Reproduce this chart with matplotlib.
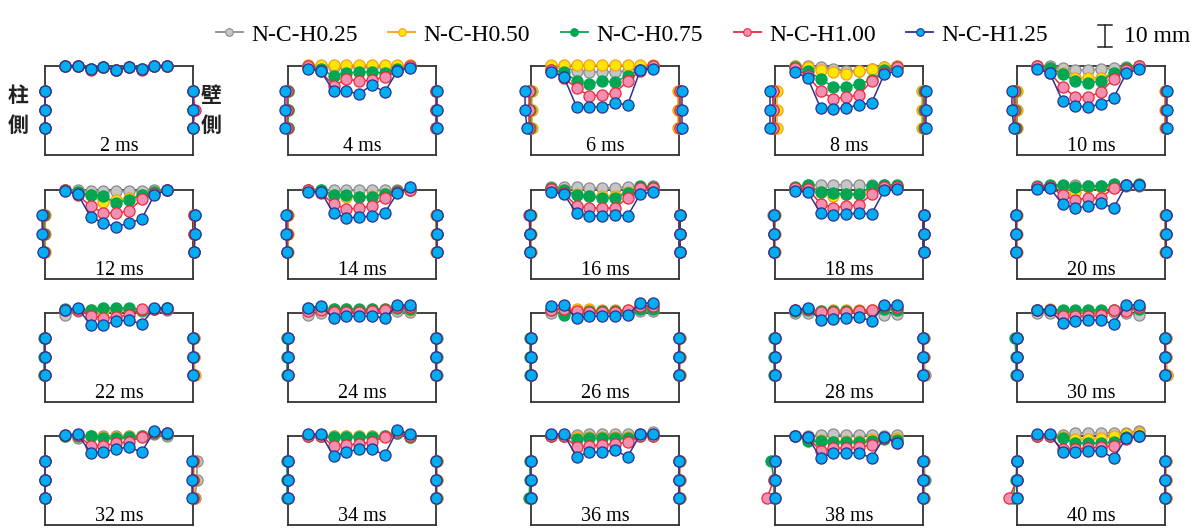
import matplotlib.pyplot as plt
from matplotlib.lines import Line2D

plt.rcParams["font.family"] = ["Liberation Serif", "DejaVu Serif"]

# ---- data (mm) ----
times_ms = [2, 4, 6, 8, 10, 12, 14, 16, 18, 20, 22, 24, 26, 28, 30, 32, 34, 36, 38, 40]
series_names = ["N-C-H0.25", "N-C-H0.50", "N-C-H0.75", "N-C-H1.00", "N-C-H1.25"]

# horizontal position of the 9 gauge points on the slab, from the left frame corner
top_x = [9.1, 14.9, 20.7, 26.5, 32.3, 38.1, 43.9, 49.7, 55.5]
# height of the 3 gauge points on each wall, from the bottom of the frame
side_y = [29.1, 20.5, 12.3]

# downward deflection of the 9 slab points, one row per time step
top_h025 = [
    [0, 0, 1.4, 0.5, 1.8, 0.5, 1.4, 0, 0],
    [0, 0, 0.5, 0.5, 0.5, 0.5, 0.5, 0, 0],
    [0, 0.5, 2.3, 2.7, 2.7, 2.7, 2.3, 0.5, 0],
    [0, 0, 0.5, 1.4, 2.3, 2.3, 1.4, 0.5, 0],
    [0, 0, 0.9, 1.8, 1.8, 1.4, 0.9, 0.5, 0],
    [0, 0, 0.5, 0.5, 0.5, 0.5, 0.5, 0, 0],
    [0, 0, 0, 0, 0, 0, 0, 0, 0],
    [-1.4, -1.4, -1.4, -1.0, -1.0, -1.0, -1.4, -1.4, -1.8],
    [-1.0, -2.3, -2.3, -2.3, -2.3, -2.3, -2.3, -2.3, -1.4],
    [-1.4, -1.8, -1.8, -2.3, -1.8, -1.8, -1.8, -1.8, -1.8],
    [0.9, -0.9, -0.9, -1.4, -1.4, -1.4, -0.9, -1.8, -1.4],
    [0.9, 0, -0.9, -0.9, -0.9, -0.9, -0.9, -0.9, -0.5],
    [0, 0, 0, -0.5, -0.5, -0.5, -0.5, -0.9, -0.9],
    [0, 0, -0.5, -0.9, -0.9, -0.9, -0.9, 0.9, 0.5],
    [0, 0, -0.5, -0.5, -0.5, -0.5, -0.5, 0, 0.9],
    [0, 0.9, 0, 0, 0, 0, 0, -0.9, 0],
    [0, 0, 0, 0, 0, 0, 0, -1.4, 0.5],
    [0, 0, -0.5, -0.9, -0.9, -0.9, -0.9, -0.9, -1.8],
    [0, 0, -0.5, -0.9, -0.5, -0.5, -0.5, 0, -0.5],
    [0, 0, -0.5, -1.4, -1.4, -1.4, -1.4, -1.4, -2.3],
]
top_h050 = [
    [0, 0, 1.2, 0.3, 1.6, 0.3, 1.2, 0, 0],
    [-0.3, -0.3, -0.3, -0.3, -0.3, -0.3, -0.3, -0.3, -0.3],
    [-0.5, -0.5, -0.5, -0.5, -0.5, -0.5, -0.5, -0.5, -0.5],
    [0, 0.5, 1.8, 2.7, 3.6, 2.3, 1.4, 0.5, 0],
    [0, 0.9, 3.2, 5.3, 5.5, 5.3, 3.2, 0.9, 0],
    [0, 0.9, 2.3, 5.5, 4.5, 3.6, 2.3, 0.9, 0],
    [0, 0.5, 2.3, 3.2, 3.2, 2.7, 1.8, 0.5, 0],
    [-0.5, 0, 1.8, 2.9, 2.7, 2.7, 0.9, -0.5, -0.9],
    [-1.0, -0.5, 0.9, 2.9, 1.8, 1.8, 0, -1.4, -1.4],
    [-1.4, -1.8, -1.8, 0.9, -1.4, -1.4, -1.8, -2.3, -2.3],
    [-1.4, -1.8, -1.4, -0.9, -1.8, -1.8, -1.4, -1.8, -2.3],
    [-2.3, -2.7, -1.8, -1.8, -1.4, -1.8, -1.8, -2.7, -1.4],
    [-1.8, -2.3, -1.8, -1.8, -1.4, -1.4, -1.4, -2.7, -2.7],
    [-1.4, -1.8, -0.9, -1.4, -1.4, -1.4, -1.4, -2.7, -2.3],
    [-1.4, -1.8, -0.9, -0.9, -0.9, -0.9, -1.4, -2.3, -2.3],
    [0, 0, 0, 0.5, 0.5, 0, 0, -1.4, -0.9],
    [0, 0, 0, 0, 0, 0, 0, -1.8, 0.5],
    [0, 0, 0.5, 0.5, 0.5, 0.5, 0.5, -0.5, -0.5],
    [0, 1.4, 1.8, 2.7, 2.3, 2.3, 1.4, 0.9, 0.9],
    [0, 0, 0.5, 1.4, 1.4, 0.9, 0, -0.9, -1.4],
]
top_h075 = [
    [0, 0, 1.4, 0.5, 1.6, 0.5, 1.4, 0, 0],
    [0.5, 1.4, 4.5, 3.2, 2.7, 2.7, 3.2, 1.4, 0.5],
    [1.8, 2.7, 6.8, 8.2, 6.8, 7.3, 4.5, 1.8, 0],
    [0.5, 2.3, 5.9, 9.5, 9.5, 8.2, 6.4, 1.8, 0.5],
    [0, 0.9, 3.6, 6.8, 7.7, 6.8, 3.2, 0.9, 0],
    [0, 0.9, 2.3, 2.7, 5.9, 4.5, 2.3, 0.9, 0],
    [0, 0, 2.3, 2.3, 3.2, 3.2, 1.8, 0.5, 0],
    [-0.9, 0, 2.3, 2.7, 3.8, 3.5, 1.4, -1.8, -1.4],
    [-1.4, -2.3, 0.9, 1.4, 1.9, 1.9, -1.8, -2.3, -2.3],
    [-1.8, -2.3, -2.3, -1.4, -1.8, -1.8, -2.7, -2.3, -2.7],
    [-1.8, -1.8, -1.4, -2.3, -2.3, -2.3, -1.4, -1.8, -2.3],
    [-1.8, -2.3, -1.8, -1.8, -1.8, -1.8, -1.8, -2.3, -1.8],
    [-1.4, 0.9, -0.5, -0.9, -0.9, -0.9, -0.9, -1.8, -1.8],
    [-0.9, -1.4, -0.9, -0.9, -0.9, -0.9, -0.9, -1.8, -1.4],
    [-1.4, -1.4, -1.4, -1.4, -1.4, -1.4, -1.4, -2.3, -1.8],
    [0, 0, 0, 0.9, 0.9, 0.5, 0, -1.4, -0.9],
    [0, 0, 0.5, 0.5, 0.5, 0.5, 0, -1.4, 0.5],
    [0, 0, 1.4, 0.9, 0.9, 0.9, 0.9, 0, 0],
    [0, 2.3, 2.3, 2.7, 2.7, 2.7, 2.3, 1.4, 1.8],
    [0, 0, 0.9, 3.2, 3.2, 3.2, 2.7, 0.5, 0],
]
top_h100 = [
    [0, 0, 1.6, 0.5, 1.8, 0.5, 1.6, 0, 0],
    [0, 2.3, 9.1, 5.9, 6.8, 6.4, 5.0, 2.3, 0],
    [1.8, 5.5, 10.0, 13.6, 13.2, 12.3, 6.8, 2.3, 0],
    [0.9, 4.5, 11.4, 15.0, 14.1, 13.2, 6.8, 3.2, 0.5],
    [0, 3.2, 9.5, 14.1, 14.1, 11.8, 5.9, 1.8, 0],
    [0, 2.3, 7.3, 10.5, 10.5, 9.5, 4.1, 1.8, 0],
    [0, 1.4, 6.4, 8.6, 8.2, 7.3, 3.6, 0.9, 0],
    [-0.5, 1.4, 7.3, 8.2, 8.2, 8.2, 3.5, -0.9, -0.9],
    [-0.9, -0.5, 6.2, 8.1, 7.3, 6.8, 1.9, -1.4, -1.4],
    [-1.4, -1.4, 2.3, 4.5, 3.6, 3.6, -1.0, -2.3, -2.3],
    [-1.4, -1.4, 1.4, 2.3, 1.8, 0.9, -1.8, -1.8, -1.8],
    [-0.9, -1.4, -0.5, -0.5, -0.5, -0.9, -1.4, -2.7, -2.7],
    [-1.4, -1.8, -0.9, -0.5, -0.5, -0.5, -1.4, -3.2, -3.2],
    [-1.4, -1.8, -0.5, -0.5, -0.5, -0.9, -1.4, -3.2, -2.7],
    [-1.4, -1.4, 1.4, 1.4, 1.4, 0.9, -1.4, -0.9, -2.7],
    [-0.5, -0.5, 4.5, 4.5, 3.2, 2.7, 0.5, -1.8, -1.4],
    [0, 0, 4.5, 4.1, 3.6, 2.7, 0.5, -1.8, 0],
    [0, 0, 5.0, 4.5, 4.1, 3.6, 2.7, 0, 0],
    [0, 0.5, 6.8, 5.5, 5.5, 5.0, 4.1, 0.9, 3.2],
    [0, 0, 5.9, 5.9, 5.5, 5.0, 4.5, 1.4, 0],
]
top_h125 = [
    [0, 0, 1.5, 0.3, 1.8, 0.3, 1.5, 0, 0],
    [1.2, 2.3, 11.4, 11.4, 12.7, 8.6, 11.8, 2.3, 0.8],
    [2.6, 4.9, 18.5, 18.5, 18.5, 16.8, 17.7, 1.8, 1.4],
    [2.7, 5.5, 19.1, 19.5, 19.1, 17.7, 16.8, 3.6, 2.3],
    [1.4, 3.2, 15.9, 18.2, 18.6, 17.3, 14.5, 3.2, 1.4],
    [0.5, 1.8, 12.3, 15.0, 16.8, 15.0, 13.2, 2.3, 0],
    [0.8, 0.8, 10.5, 12.7, 12.3, 11.8, 10.5, 1.4, -1.4],
    [0.9, 1.8, 10.5, 11.8, 11.8, 11.4, 11.8, 1.8, 0.9],
    [0.5, 0.9, 10.5, 11.4, 10.9, 10.5, 10.9, 0, -0.5],
    [-0.5, -0.9, 6.4, 8.2, 7.3, 5.9, 8.2, -2.3, -2.3],
    [-1.4, -2.3, 5.5, 5.5, 3.6, 3.2, 5.0, -2.3, -2.3],
    [-2.3, -3.2, 2.3, 1.4, 1.4, 1.4, 2.3, -3.6, -3.6],
    [-3.2, -3.6, 2.3, 1.4, 1.4, 1.4, 0.9, -4.5, -4.5],
    [-1.4, -2.3, 3.2, 2.7, 2.3, 1.8, 3.6, -3.6, -3.6],
    [-1.4, -1.4, 4.5, 3.6, 3.2, 3.2, 5.0, -3.6, -3.6],
    [-0.5, -0.9, 7.7, 7.3, 5.9, 5.0, 7.3, -2.3, -1.4],
    [-0.9, -0.9, 9.1, 7.3, 5.9, 5.9, 8.6, -2.7, -0.9],
    [-0.9, -0.9, 9.5, 7.3, 7.3, 6.4, 9.5, -0.9, -0.9],
    [0, 0.5, 10.0, 7.7, 7.7, 7.7, 10.0, 0.5, 3.2],
    [-0.9, -0.9, 7.3, 7.3, 6.8, 6.8, 10.0, 0.9, 0],
]

# outward movement of the wall points: left wall (3 points) then right wall (3 points)
side_h025 = [
    [0, 0, 0, 0, 0, 0], [0, 0, 0, 0, 0, 0], [0.5, 0.5, 0.5, 0.5, 0.5, 0.5],
    [0.5, 0.5, 0.5, 0.5, 0.5, 0.5], [0.9, 0.9, 0.5, 0.5, 0.5, 0.5], [0.5, 0.5, 0.5, 0.5, 0.5, 0.5],
    [0.5, 0.5, 0.5, 0.5, 0.5, 0.5], [0.5, 0.5, 0.5, 0.5, 0.5, 0.5], [0.9, 0.5, 0.5, 0.5, 0.5, 0.5],
    [0.5, 0.5, 0.5, 0.5, 0.5, 0.5], [0, 0, 0, 0.5, 0.5, 0.5], [0, 0, 0, 0.5, 0.5, 0.5],
    [0, 0, 0, 0.5, 0.5, 0.5], [0, 0, 0, 0.5, 0.5, 0.9], [0, 0, 0, 0.5, 0.5, 0.9],
    [0, 0, 0, 1.8, 1.8, 0.9], [0, 0, 0, 0.5, 0.5, 0.5], [0, 0, 0, 0.5, 0.5, 0.5],
    [0, 0, 0, 0.5, 0.9, 0.5], [0, 0, 0, 0.5, 0.5, 0.5],
]
side_h050 = [
    [0, 0, 0, 0, 0, 0], [0, 0, 0, 0.5, 0.5, 0.5], [-0.5, -0.5, -0.5, -0.3, -0.3, -0.3],
    [-0.8, -0.8, -0.8, -0.5, -0.5, -0.5], [0, 0, 0, 0, 0, 0], [0, 0, 0, 0.5, 0.5, 0.5],
    [0, 0, 0, 0, 0, 0], [0, 0, 0, 0.5, 0.5, 0.5], [0, 0, 0, 0.5, 0.5, 0.5],
    [0, 0, 0, 0, 0, 0], [0, 0, 0.5, 0.5, 0.5, 0.9], [0, 0, 0, 0, 0, 0],
    [0, 0, 0, 0.5, 0.5, 0.5], [0, 0, 0, 0.5, 0.5, 0.5], [0, 0, 0, 0.5, 0.5, 0.9],
    [0, 0, 0, 0.5, 0.5, 0.5], [0, 0, 0, 0.5, 0.5, 0.5], [0, 0, 0, 0.5, 0.5, 0.5],
    [0, 0, 0, 0.5, 0.5, 0.5], [0, 0, 0, 0.5, 0.5, 0.5],
]
side_h075 = [
    [0, 0, 0, 0, 0, 0], [0, 0, 0, 0, 0, 0], [0.5, 0.5, 0.5, 0.5, 0.5, 0.5],
    [0.9, 0.9, 0.9, 0.5, 0.5, 0.5], [0.9, 0.9, 0.5, 0.5, 0.5, 0.5], [0.5, 0.5, 0.5, 0.9, 0.9, 0.5],
    [0.5, 0.5, 0.5, 0.5, 0.5, 0.5], [0.5, 0.5, 0.5, 0.5, 0.5, 0.5], [0.5, 0.5, 0.5, 0.5, 0.5, 0.5],
    [0.5, 0.5, 0.5, 0.5, 0.5, 0.5], [0.5, 0.5, 0.5, 0, 0, 0], [0.5, 0.5, 0.5, 0, 0, 0],
    [0.5, 0.5, 0.5, 0, 0, 0], [0.5, 0.5, 0.5, 0, 0, 0], [0.9, 0.5, 0.5, 0, 0, 0],
    [0, 0, 0, 0, 0, 0], [0.5, 0.5, 0.5, 0, 0, 0], [0.5, 0.5, 0.9, 0, 0, 0],
    [1.8, 0.5, 0.5, 0, 0.5, 0], [0, 0.5, 1.8, 0, 0, 0],
]
side_h100 = [
    [0, 0, 0, 0, 0.9, 0], [0.5, 0.5, 0.5, 0, 0, 0], [0.9, 0.9, 0.9, 0.5, 0.5, 0.5],
    [0.9, 0.9, 0.9, 0.9, 0.9, 0.9], [1.4, 1.4, 0.9, 0.5, 0.5, 0.5], [0.9, 0.9, 0.5, 0.5, 0.5, 0.5],
    [0.5, 0.5, 0.5, 0.5, 0.5, 0.5], [0.9, 0.5, 0.5, 0.5, 0.5, 0.5], [0.5, 0.5, 0.5, 0.5, 0.5, 0.5],
    [0.5, 0.5, 0.5, 0.5, 0.5, 0.5], [0, 0, 0, 0, 0, 0], [0, 0, 0, 0, 0, 0],
    [0, 0, 0, 0, 0, 0], [0, 0, 0, 0, 0, 0], [0, 0, 0, 0, 0, 0],
    [0, 0, 0, 0, 0, 0], [0, 0, 0, 0, 0, 0], [0, 0, 0, 0, 0, 0],
    [0, 0.5, 3.6, 0, 0, 0], [0, 0, 3.6, 0, 0, 0],
]
side_h125 = [
    [0, 0, 0, 0, 0, 0], [1.4, 1.4, 1.2, 0.5, 0.5, 0.5], [2.7, 2.7, 1.8, 1.2, 1.2, 1.2],
    [2.3, 2.3, 2.3, 1.4, 1.4, 1.4], [2.3, 2.3, 1.4, 0.8, 0.8, 0.8], [1.4, 1.2, 0.9, 0.9, 0.9, 0.5],
    [0.9, 0.9, 0.5, 0.5, 0.5, 0.5], [0.5, 0.5, 0.5, 0.5, 0.5, 0.5], [0.5, 0.5, 0.5, 0.5, 0.5, 0.5],
    [0.5, 0.5, 0.5, 0.5, 0.5, 0.5], [0, 0, 0, 0, 0, 0], [0, 0, 0, 0, 0, 0],
    [0, 0, 0, 0, 0, 0], [0, 0, 0, 0, 0, 0], [0, 0, 0, 0, 0, 0],
    [0, 0, 0, -0.5, -0.5, -0.5], [0, 0, 0, 0, 0, 0], [0, 0, 0, 0, 0, 0],
    [0, 0, 0, 0, 0, 0], [0, 0, 0, 0, 0, 0],
]

top_data = [top_h025, top_h050, top_h075, top_h100, top_h125]
side_data = [side_h025, side_h050, side_h075, side_h100, side_h125]

# ---- styles ----
line_colors = ["#8c8c8c", "#f5a01e", "#00a651", "#ec2a3c", "#2e3192"]
face_colors = ["#c4c6c8", "#ffe500", "#00a651", "#f390b2", "#00aeef"]

FIG_W, FIG_H = 1201, 531
PX_PER_MM = 2.2
FRAME_W_PX, FRAME_H_PX = 148, 89
W, H = FRAME_W_PX / PX_PER_MM, FRAME_H_PX / PX_PER_MM
col_left_px = [45, 288, 531, 775, 1017]
row_top_px = [66, 190, 313, 436]

fig = plt.figure(figsize=(FIG_W / 100, FIG_H / 100), dpi=100)


def px_rect(left, top, width, height):
    return [left / FIG_W, 1 - (top + height) / FIG_H, width / FIG_W, height / FIG_H]


for k, t in enumerate(times_ms):
    r, c = divmod(k, 5)
    ax = fig.add_axes(px_rect(col_left_px[c], row_top_px[r], FRAME_W_PX, FRAME_H_PX))
    ax.set_xlim(0, W)
    ax.set_ylim(0, H)
    ax.set_xticks([])
    ax.set_yticks([])
    ax.patch.set_alpha(0)
    for spine in ax.spines.values():
        spine.set_color("#333333")
        spine.set_linewidth(1.3)
        spine.set_zorder(1)

    for s in range(5):
        style = dict(
            color=line_colors[s], lw=1.1, marker="o", ms=8,
            mfc=face_colors[s], mec=line_colors[s], mew=0.9,
            clip_on=False, zorder=3 + s,
        )
        ax.plot(top_x, [H - d for d in top_data[s][k]], **style)
        side = side_data[s][k]
        ax.plot([-d for d in side[:3]], side_y, **style)
        ax.plot([W + d for d in side[3:]], side_y, **style)

    ax.text(W / 2, 1.9, f"{t} ms", ha="center", va="baseline", fontsize=14.5, zorder=20)

# wall labels
for ch, x, y in [("柱", 18, 96), ("側", 18, 126), ("壁", 211, 96), ("側", 211, 126)]:
    fig.text(x / FIG_W, 1 - y / FIG_H, ch, ha="center", va="center", fontsize=15,
             fontweight="bold", family=["Noto Sans CJK JP", "DejaVu Sans"], color="#222222")

# legend
handles = [
    Line2D([], [], color=line_colors[s], lw=1.3, marker="o", ms=5.5,
           mfc=face_colors[s], mec=line_colors[s], mew=0.8)
    for s in range(5)
]
fig.legend(handles, series_names, loc="center", bbox_to_anchor=(632 / FIG_W, 1 - 35 / FIG_H),
           ncol=5, frameon=False, fontsize=17, handlelength=1.15, handletextpad=0.35,
           columnspacing=1.3, borderaxespad=0)

# 10 mm scale bar
sb_w, sb_h = 30, 32
sb = fig.add_axes(px_rect(1090, 20, sb_w, sb_h))
sb.set_xlim(0, sb_w / PX_PER_MM)
sb.set_ylim(0, sb_h / PX_PER_MM)
sb.axis("off")
bx, by = 15 / PX_PER_MM, 5 / PX_PER_MM
tick = 6.0
sb.plot([bx, bx], [by, by + 10], color="#222222", lw=1.1)
sb.plot([bx - tick / 2, bx + tick / 2], [by, by], color="#222222", lw=1.1)
sb.plot([bx - tick / 2, bx + tick / 2], [by + 10, by + 10], color="#222222", lw=1.1)
fig.text(1124 / FIG_W, 1 - 36 / FIG_H, "10 mm", ha="left", va="center", fontsize=17)

fig.savefig("out.png", dpi=100)
